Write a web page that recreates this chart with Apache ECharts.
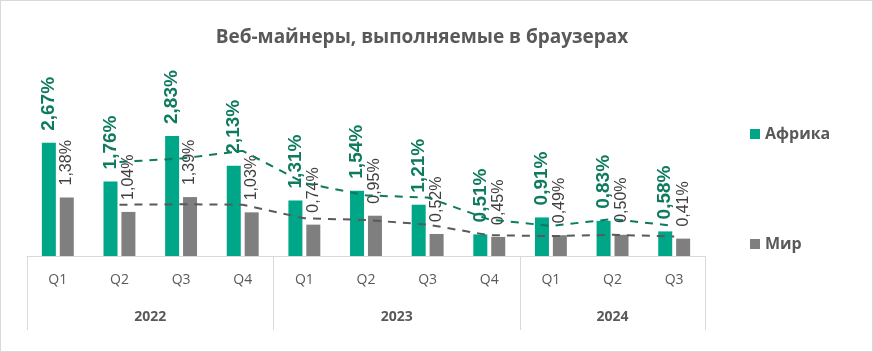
<!DOCTYPE html>
<html>
<head>
<meta charset="utf-8">
<script src="https://cdn.jsdelivr.net/npm/echarts@6/dist/echarts.min.js"></script>
<style>
  html, body { margin: 0; padding: 0; background: #fff; }
  #wrap { width: 873px; height: 352px; box-sizing: border-box; border: 1px solid #d9d9d9; }
  #chart { width: 871px; height: 350px; }
</style>
</head>
<body>
<div id="wrap"><div id="chart"></div></div>
<script>
// данные
var quarters = ['Q1', 'Q2', 'Q3', 'Q4', 'Q1', 'Q2', 'Q3', 'Q4', 'Q1', 'Q2', 'Q3'];
var years = ['2022', '2023', '2024'];
var quartersPerYear = [4, 4, 3];
var africa = [2.67, 1.76, 2.83, 2.13, 1.31, 1.54, 1.21, 0.51, 0.91, 0.83, 0.58];
var world = [1.38, 1.04, 1.39, 1.03, 0.74, 0.95, 0.52, 0.45, 0.49, 0.50, 0.41];
// линии тренда (скользящее среднее, как на картинке)
var africaTrend = [null, 2.22, 2.30, 2.48, 1.72, 1.43, 1.38, 0.86, 0.71, 0.87, 0.71];
var worldTrend = [null, 1.21, 1.22, 1.21, 0.89, 0.85, 0.74, 0.49, 0.47, 0.50, 0.46];

// границы и центры годов на оси
var yearBounds = [0];
var yearCenters = [];
quartersPerYear.forEach(function (n) {
  var start = yearBounds[yearBounds.length - 1];
  yearCenters.push(start + n / 2);
  yearBounds.push(start + n);
});

function pct(v) {
  return v.toFixed(2).replace('.', ',') + '%';
}

var chart = echarts.init(document.getElementById('chart'));

var option = {
  animation: false,
  textStyle: { fontFamily: 'Liberation Sans' },
  title: {
    text: 'Веб-майнеры, выполняемые в браузерах',
    left: 416,
    textAlign: 'center',
    top: 22,
    textStyle: { fontFamily: 'Open Sans', fontSize: 19, fontWeight: 'bold', color: '#595959' }
  },
  legend: {
    data: ['Африка', 'Мир'],
    orient: 'vertical',
    left: 744,
    top: 120,
    itemGap: 94,
    itemWidth: 10,
    itemHeight: 10,
    icon: 'rect',
    textStyle: { fontSize: 16, fontWeight: 'bold', color: '#595959', fontFamily: 'Open Sans' }
  },
  grid: { left: 26, right: 167, top: 60, bottom: 95 },
  xAxis: [{
    type: 'category',
    data: quarters,
    axisLine: { lineStyle: { color: '#d9d9d9', width: 1 } },
    axisTick: { show: false },
    axisLabel: { color: '#595959', fontSize: 14, margin: 17, interval: 0, fontFamily: 'Open Sans' }
  }, {
    type: 'value',
    position: 'bottom',
    min: 0,
    max: quarters.length,
    axisLine: { show: false },
    splitLine: { show: false },
    axisTick: {
      show: true,
      customValues: yearBounds,
      length: 74,
      lineStyle: { color: '#d9d9d9', width: 1 }
    },
    axisLabel: {
      customValues: yearCenters,
      margin: 54,
      color: '#595959',
      fontSize: 14,
      fontWeight: 'bold',
      fontFamily: 'Open Sans',
      formatter: function (v) {
        var i = yearCenters.indexOf(v);
        return i >= 0 ? years[i] : '';
      }
    }
  }],
  yAxis: {
    type: 'value',
    min: 0,
    max: 4.6,
    show: false,
    splitLine: { show: false }
  },
  series: [{
    name: 'Африка',
    type: 'bar',
    data: africa,
    barWidth: 14,
    barGap: '28%',
    itemStyle: { color: '#00A688' },
    label: {
      show: true,
      position: 'top',
      rotate: 90,
      align: 'left',
      verticalAlign: 'middle',
      distance: 12,
      fontSize: 19,
      fontWeight: 'bold',
      color: '#0E7A5E',
      formatter: function (p) { return pct(p.value); }
    }
  }, {
    name: 'Мир',
    type: 'bar',
    data: world,
    barWidth: 14,
    itemStyle: { color: '#7F7F7F' },
    label: {
      show: true,
      position: 'top',
      rotate: 90,
      align: 'left',
      verticalAlign: 'middle',
      distance: 12,
      fontSize: 16,
      color: '#404040',
      formatter: function (p) { return pct(p.value); }
    }
  }, {
    name: 'Тренд Африка',
    type: 'line',
    data: africaTrend,
    symbol: 'none',
    z: 5,
    lineStyle: { color: '#0E7A5E', width: 2, type: [8, 7] }
  }, {
    name: 'Тренд Мир',
    type: 'line',
    data: worldTrend,
    symbol: 'none',
    z: 5,
    lineStyle: { color: '#595959', width: 2, type: [8, 7] }
  }]
};

chart.setOption(option);
</script>
</body>
</html>
